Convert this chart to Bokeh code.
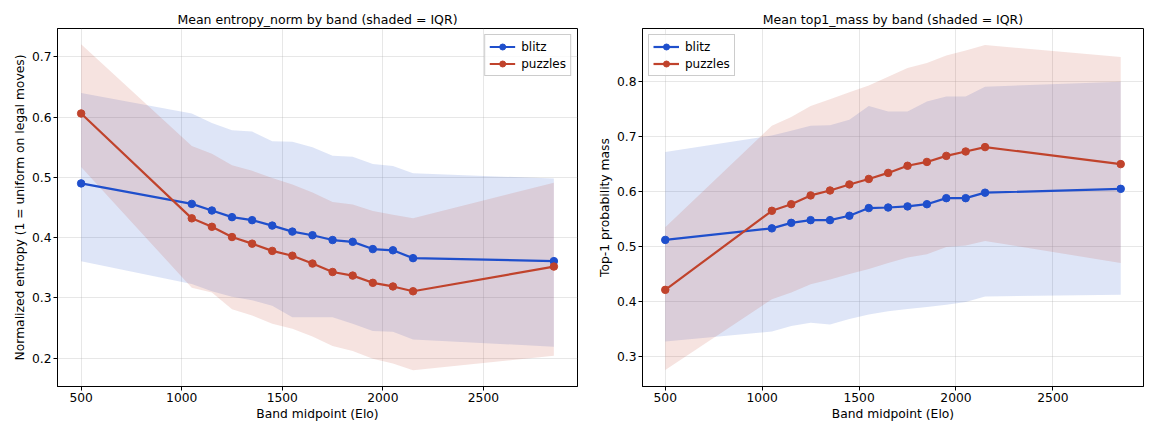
from bokeh.plotting import figure
from bokeh.layouts import row
from bokeh.models import Range1d, FixedTicker, Legend, LegendItem
from bokeh.embed import file_html
from bokeh.resources import INLINE

# ---------------- data ----------------
band_mid = [500, 1050, 1150, 1250, 1350, 1450, 1550, 1650, 1750, 1850, 1950, 2050, 2150, 2850]

# entropy_norm
blitz_ent_mean = [0.490, 0.456, 0.445, 0.434, 0.429, 0.420, 0.410, 0.404, 0.396, 0.393, 0.381, 0.379, 0.366, 0.361]
blitz_ent_q1 = [0.361, 0.323, 0.311, 0.302, 0.296, 0.287, 0.268, 0.268, 0.268, 0.257, 0.245, 0.244, 0.231, 0.219]
blitz_ent_q3 = [0.640, 0.606, 0.590, 0.578, 0.576, 0.560, 0.559, 0.550, 0.536, 0.534, 0.522, 0.519, 0.507, 0.498]
puzzles_ent_mean = [0.606, 0.432, 0.418, 0.401, 0.390, 0.378, 0.370, 0.357, 0.343, 0.337, 0.325, 0.319, 0.311, 0.352]
puzzles_ent_q1 = [0.517, 0.317, 0.309, 0.281, 0.271, 0.257, 0.249, 0.236, 0.220, 0.212, 0.199, 0.191, 0.180, 0.204]
puzzles_ent_q3 = [0.721, 0.552, 0.539, 0.520, 0.511, 0.499, 0.488, 0.475, 0.459, 0.455, 0.444, 0.438, 0.432, 0.491]

# top1_mass
blitz_top_mean = [0.512, 0.533, 0.543, 0.548, 0.548, 0.556, 0.570, 0.571, 0.573, 0.577, 0.588, 0.588, 0.598, 0.605]
blitz_top_q1 = [0.327, 0.345, 0.355, 0.361, 0.358, 0.368, 0.376, 0.382, 0.386, 0.390, 0.394, 0.399, 0.409, 0.412]
blitz_top_q3 = [0.672, 0.702, 0.711, 0.720, 0.721, 0.731, 0.756, 0.746, 0.746, 0.764, 0.773, 0.773, 0.791, 0.800]
puzzles_top_mean = [0.421, 0.565, 0.577, 0.593, 0.602, 0.613, 0.623, 0.634, 0.647, 0.654, 0.665, 0.673, 0.681, 0.650]
puzzles_top_q1 = [0.275, 0.404, 0.416, 0.431, 0.440, 0.450, 0.459, 0.470, 0.480, 0.486, 0.499, 0.502, 0.510, 0.470]
puzzles_top_q3 = [0.535, 0.720, 0.736, 0.756, 0.768, 0.781, 0.793, 0.809, 0.825, 0.834, 0.848, 0.857, 0.867, 0.845]

x_ticks = [500, 1000, 1500, 2000, 2500]
y_ticks_left = [0.2, 0.3, 0.4, 0.5, 0.6, 0.7]
y_ticks_right = [0.3, 0.4, 0.5, 0.6, 0.7, 0.8]

BLUE = "#1f4fcc"
RED = "#c0432c"
FONT = "DejaVu Sans"
FS = "12.3px"


def make_panel(title, ylabel, yr, yticks, series, legend_loc, width, bl, br):
    p = figure(width=width, height=423, output_backend="svg", toolbar_location=None,
               x_range=Range1d(382.5, 2967.5), y_range=Range1d(*yr),
               min_border_left=bl, min_border_right=br, min_border_top=28, min_border_bottom=20)
    p.title.text = title
    p.title.align = "center"
    p.title.text_font = FONT
    p.title.text_font_size = "12.5px"
    p.title.text_font_style = "normal"
    p.title.text_color = "#000000"
    p.title.standoff = 4

    p.outline_line_color = "#000000"
    p.outline_line_width = 1
    p.outline_line_alpha = 1

    for ax in (p.xaxis, p.yaxis):
        ax.axis_line_color = "#000000"
        ax.major_tick_line_color = "#000000"
        ax.minor_tick_line_color = None
        ax.major_tick_out = 4
        ax.major_tick_in = 0
        ax.major_label_text_font = FONT
        ax.major_label_text_font_size = FS
        ax.major_label_text_color = "#000000"
        ax.axis_label_text_font = FONT
        ax.axis_label_text_font_size = FS
        ax.axis_label_text_font_style = "normal"
        ax.axis_label_text_color = "#000000"
        ax.major_label_standoff = 2
        ax.axis_label_standoff = 2
    p.xaxis.ticker = FixedTicker(ticks=x_ticks)
    p.yaxis.ticker = FixedTicker(ticks=yticks)
    p.xaxis.axis_label = "Band midpoint (Elo)"
    p.yaxis.axis_label = ylabel

    p.grid.grid_line_color = "#b0b0b0"
    p.grid.grid_line_alpha = 0.3
    p.grid.grid_line_width = 1

    items = []
    for name, color, mean, q1, q3 in series:
        p.varea(x=band_mid, y1=q1, y2=q3, fill_color=color, fill_alpha=0.15)
    for name, color, mean, q1, q3 in series:
        l = p.line(band_mid, mean, line_color=color, line_width=2.2)
        s = p.scatter(band_mid, mean, size=7.5, fill_color=color, line_color=color)
        items.append(LegendItem(label=name, renderers=[l, s]))

    leg = Legend(items=items, location=legend_loc)
    leg.label_text_font = FONT
    leg.label_text_font_size = "12px"
    leg.label_text_color = "#000000"
    leg.border_line_color = "#cccccc"
    leg.border_line_alpha = 1
    leg.background_fill_alpha = 0.8
    leg.glyph_width = 26
    leg.glyph_height = 15
    leg.label_height = 15
    leg.spacing = 2
    leg.padding = 4
    leg.margin = 6
    leg.label_standoff = 6
    p.add_layout(leg)
    return p


left = make_panel("Mean entropy_norm by band (shaded = IQR)",
                  "Normalized entropy (1 = uniform on legal moves)",
                  (0.153, 0.747), y_ticks_left,
                  [("blitz", BLUE, blitz_ent_mean, blitz_ent_q1, blitz_ent_q3),
                   ("puzzles", RED, puzzles_ent_mean, puzzles_ent_q1, puzzles_ent_q3)],
                  "top_right", 594, 57, 17)

right = make_panel("Mean top1_mass by band (shaded = IQR)",
                   "Top-1 probability mass",
                   (0.245, 0.897), y_ticks_right,
                   [("blitz", BLUE, blitz_top_mean, blitz_top_q1, blitz_top_q3),
                    ("puzzles", RED, puzzles_top_mean, puzzles_top_q1, puzzles_top_q3)],
                   "top_left", 551, 44, 2)

layout = row(left, right)
open("out.html", "w").write(file_html(layout, INLINE))
